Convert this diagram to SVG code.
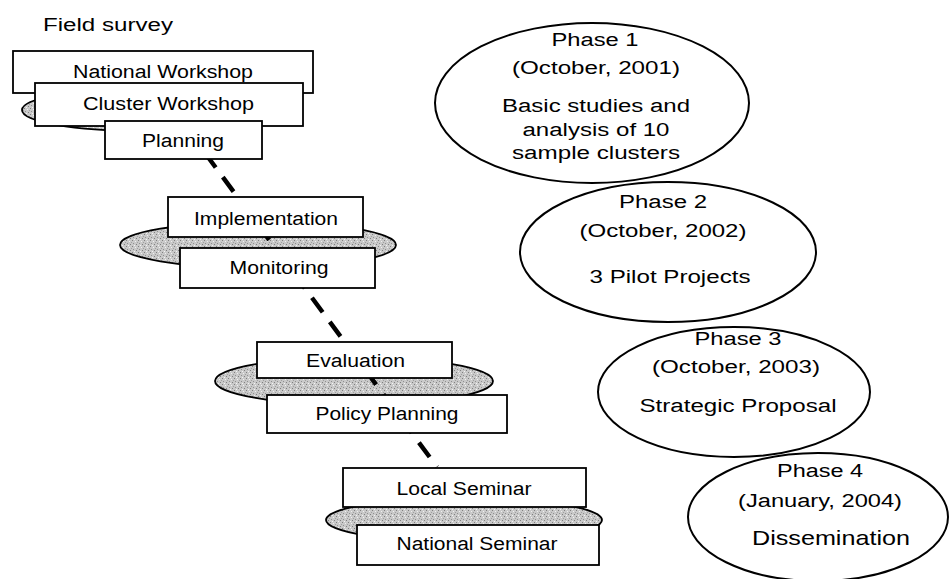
<svg xmlns="http://www.w3.org/2000/svg" width="950" height="579" viewBox="0 0 950 579">
<defs>
<pattern id="stip" width="6" height="6" patternUnits="userSpaceOnUse">
<rect width="6" height="6" fill="#c9c9c9"/>
<rect x="0" y="0" width="1" height="1" fill="#808080"/>
<rect x="3" y="1" width="1" height="1" fill="#f0f0f0"/>
<rect x="1" y="3" width="1" height="1" fill="#909090"/>
<rect x="4" y="4" width="1" height="1" fill="#808080"/>
<rect x="5" y="2" width="1" height="1" fill="#a0a0a0"/>
<rect x="2" y="5" width="1" height="1" fill="#f4f4f4"/>
</pattern>
<style>
.box{fill:#fff;stroke:#000;stroke-width:1.8}
.cl{fill:url(#stip);stroke:#000;stroke-width:1.8}
.ph{fill:none;stroke:#000;stroke-width:2}
text{font-family:"Liberation Sans",Arial,sans-serif;font-size:18px;fill:#000}
.c{text-anchor:middle}
.conn{stroke:#000;stroke-width:4.5;stroke-dasharray:18 12;fill:none}
</style>
</defs>
<rect width="950" height="579" fill="#fff"/>
<text x="43" y="31" textLength="130" lengthAdjust="spacingAndGlyphs">Field survey</text>
<g id="clusters">
<ellipse class="cl" cx="140" cy="110" rx="118" ry="21"/>
<ellipse class="cl" cx="258" cy="245" rx="138" ry="23"/>
<ellipse class="cl" cx="354" cy="381" rx="139" ry="24"/>
<ellipse class="cl" cx="464" cy="520" rx="138" ry="22"/>
</g>
<g id="connectors">
<line class="conn" x1="205" y1="153" x2="437" y2="467"/>
</g>
<g id="national-workshop"><rect class="box" x="13" y="51" width="300" height="42"/><text class="c" x="163" y="78" textLength="180" lengthAdjust="spacingAndGlyphs">National Workshop</text></g>
<g id="cluster-workshop"><rect class="box" x="35" y="83" width="268" height="43"/><text class="c" x="168.5" y="110" textLength="171" lengthAdjust="spacingAndGlyphs">Cluster Workshop</text></g>
<g id="planning"><rect class="box" x="105" y="121" width="157" height="38"/><text class="c" x="183" y="147" textLength="82" lengthAdjust="spacingAndGlyphs">Planning</text></g>
<g id="implementation"><rect class="box" x="168" y="197" width="195" height="40"/><text class="c" x="266" y="225" textLength="144" lengthAdjust="spacingAndGlyphs">Implementation</text></g>
<g id="monitoring"><rect class="box" x="180" y="248" width="195" height="40"/><text class="c" x="279" y="274" textLength="99" lengthAdjust="spacingAndGlyphs">Monitoring</text></g>
<g id="evaluation"><rect class="box" x="257" y="342" width="195" height="36"/><text class="c" x="355.5" y="367" textLength="99" lengthAdjust="spacingAndGlyphs">Evaluation</text></g>
<g id="policy-planning"><rect class="box" x="267" y="395" width="240" height="38"/><text class="c" x="387" y="420" textLength="143" lengthAdjust="spacingAndGlyphs">Policy Planning</text></g>
<g id="local-seminar"><rect class="box" x="343" y="468" width="243" height="39"/><text class="c" x="464" y="495" textLength="135" lengthAdjust="spacingAndGlyphs">Local Seminar</text></g>
<g id="national-seminar"><rect class="box" x="357" y="525" width="242" height="40"/><text class="c" x="477" y="550" textLength="161" lengthAdjust="spacingAndGlyphs">National Seminar</text></g>
<g id="phase1"><ellipse class="ph" cx="592" cy="103" rx="157" ry="80"/>
<text class="c" x="595" y="46" textLength="87" lengthAdjust="spacingAndGlyphs">Phase 1</text>
<text class="c" x="596" y="74" textLength="168" lengthAdjust="spacingAndGlyphs">(October, 2001)</text>
<text class="c" x="596" y="112" textLength="188" lengthAdjust="spacingAndGlyphs">Basic studies and</text>
<text class="c" x="596" y="136" textLength="147" lengthAdjust="spacingAndGlyphs">analysis of 10</text>
<text class="c" x="596" y="159" textLength="168" lengthAdjust="spacingAndGlyphs">sample clusters</text></g>
<g id="phase2"><ellipse class="ph" cx="668" cy="252" rx="148" ry="70"/>
<text class="c" x="663" y="208" textLength="88" lengthAdjust="spacingAndGlyphs">Phase 2</text>
<text class="c" x="663" y="237" textLength="167" lengthAdjust="spacingAndGlyphs">(October, 2002)</text>
<text class="c" x="670" y="283" textLength="161" lengthAdjust="spacingAndGlyphs">3 Pilot Projects</text></g>
<g id="phase3"><ellipse class="ph" cx="734" cy="392" rx="136" ry="65"/>
<text class="c" x="738" y="345" textLength="87" lengthAdjust="spacingAndGlyphs">Phase 3</text>
<text class="c" x="736" y="373" textLength="168" lengthAdjust="spacingAndGlyphs">(October, 2003)</text>
<text class="c" x="738" y="412" textLength="197" lengthAdjust="spacingAndGlyphs">Strategic Proposal</text></g>
<g id="phase4"><ellipse class="ph" cx="818" cy="517" rx="130" ry="64"/>
<text class="c" x="820" y="477" textLength="86" lengthAdjust="spacingAndGlyphs">Phase 4</text>
<text class="c" x="820" y="507" textLength="164" lengthAdjust="spacingAndGlyphs">(January, 2004)</text>
<text class="c" x="831" y="545" style="font-size:21px" textLength="158" lengthAdjust="spacingAndGlyphs">Dissemination</text></g>
</svg>
